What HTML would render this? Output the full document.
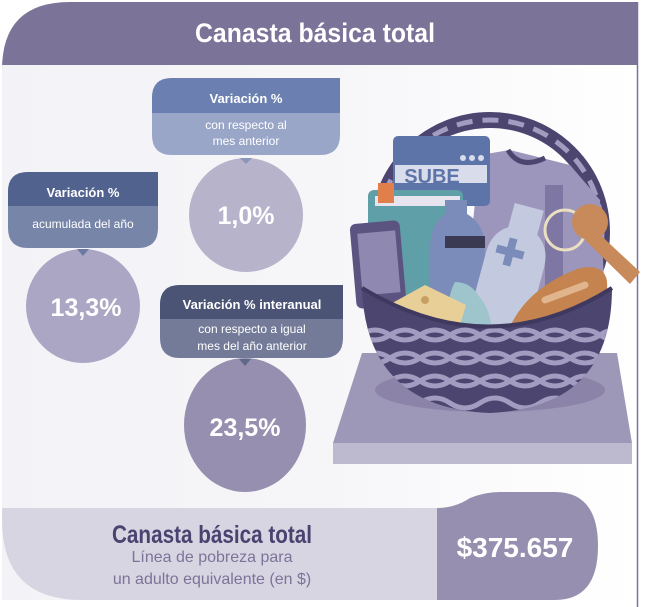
<!DOCTYPE html>
<html><head><meta charset="utf-8"><style>
body{margin:0;width:646px;height:607px;overflow:hidden;background:#fff;font-family:"Liberation Sans",sans-serif}
svg{display:block}
</style></head><body>
<svg width="646" height="607" viewBox="0 0 646 607" xmlns="http://www.w3.org/2000/svg">
<defs>
<linearGradient id="bg" x1="0" x2="1"><stop offset="0" stop-color="#f3f3f7"/><stop offset="0.5" stop-color="#f6f6f9"/><stop offset="1" stop-color="#ffffff"/></linearGradient>
<clipPath id="bowl"><path d="M362 288 Q490 365 612 288 Q612 408 490 413 Q366 408 362 288 Z"/></clipPath>
</defs>
<rect x="2" y="60" width="636" height="540" fill="url(#bg)"/>
<line x1="637.5" y1="2" x2="637.5" y2="607" stroke="#7c7399" stroke-width="1.5"/>
<path d="M70 2 H638 V65 H2 V70 Q2 2 70 2 Z" fill="#7c7399"/>
<text x="315" y="42" text-anchor="middle" font-size="27" font-weight="bold" fill="#fff" textLength="240" lengthAdjust="spacingAndGlyphs">Canasta básica total</text>

<path d="M172 78 H340 V135 Q340 155 320 155 H172 Q152 155 152 135 V98 Q152 78 172 78 Z" fill="#9aa6c8"/>
<path d="M172 78 H340 V113 H152 V98 Q152 78 172 78 Z" fill="#6b80b0"/>
<text x="246" y="103" text-anchor="middle" font-size="13" font-weight="bold" fill="#fff">Variación %</text>
<text x="246" y="129" text-anchor="middle" font-size="12" fill="#fff">con respecto al</text>
<text x="246" y="145" text-anchor="middle" font-size="12" fill="#fff">mes anterior</text>
<circle cx="246" cy="215" r="57" fill="#b7b3cb"/>
<path d="M240 158 L252 158 L246 164 Z" fill="#8a96b8"/>
<text x="246" y="224" text-anchor="middle" font-size="25" font-weight="bold" fill="#fff">1,0%</text>

<path d="M28 172 H158 V228 Q158 248 138 248 H28 Q8 248 8 228 V192 Q8 172 28 172 Z" fill="#7785a8"/>
<path d="M28 172 H158 V206 H8 V192 Q8 172 28 172 Z" fill="#51628f"/>
<text x="83" y="197" text-anchor="middle" font-size="13" font-weight="bold" fill="#fff">Variación %</text>
<text x="83" y="228" text-anchor="middle" font-size="12" fill="#fff">acumulada del año</text>
<circle cx="83" cy="306" r="57" fill="#aba6c4"/>
<path d="M77 249 L89 249 L83 256 Z" fill="#6a7aa2"/>
<text x="86" y="316" text-anchor="middle" font-size="25" font-weight="bold" fill="#fff">13,3%</text>

<path d="M180 285 H343 V338 Q343 358 323 358 H180 Q160 358 160 338 V305 Q160 285 180 285 Z" fill="#737b99"/>
<path d="M180 285 H343 V319 H160 V305 Q160 285 180 285 Z" fill="#4b5475"/>
<text x="252" y="309" text-anchor="middle" font-size="13" font-weight="bold" fill="#fff">Variación % interanual</text>
<text x="252" y="333" text-anchor="middle" font-size="12" fill="#fff">con respecto a igual</text>
<text x="252" y="350" text-anchor="middle" font-size="12" fill="#fff">mes del año anterior</text>
<ellipse cx="245" cy="425" rx="61" ry="67" fill="#968fb0"/>
<path d="M239 359 L251 359 L245 366 Z" fill="#60698a"/>
<text x="245" y="436" text-anchor="middle" font-size="25" font-weight="bold" fill="#fff">23,5%</text>

<path d="M362 353 H617 L632 443 H333 Z" fill="#9e98b8"/>
<rect x="333" y="443" width="299" height="21" fill="#bdb9ce"/>
<ellipse cx="490" cy="390" rx="115" ry="22" fill="#8b84a8"/>
<circle cx="490" cy="232" r="112" fill="none" stroke="#4c4570" stroke-width="16"/>
<circle cx="490" cy="232" r="112" fill="none" stroke="#a29cc0" stroke-width="5" stroke-dasharray="16 10"/>
<path d="M480 155 L510 150 L570 165 L600 200 L605 300 L500 340 L470 250 Z" fill="#9d96bc"/>
<path d="M508 150 Q520 170 545 158" fill="none" stroke="#4c4570" stroke-width="5"/>
<rect x="545" y="185" width="18" height="130" fill="#7f77a3"/>
<rect x="393" y="136" width="97" height="70" rx="5" fill="#5d74a8"/>
<rect x="395" y="165" width="92" height="18" fill="#d9dcea"/>
<text x="432" y="183" text-anchor="middle" font-size="20" font-weight="bold" fill="#5d74a8">SUBE</text>
<circle cx="463" cy="158" r="3" fill="#d9dcea"/><circle cx="472" cy="158" r="3" fill="#d9dcea"/><circle cx="481" cy="158" r="3" fill="#d9dcea"/>
<rect x="368" y="190" width="95" height="110" rx="6" fill="#5f9fa8"/>
<rect x="375" y="196" width="85" height="10" fill="#e6e4ee"/>
<rect x="378" y="183" width="16" height="20" fill="#e07f4a"/>
<rect x="353" y="222" width="50" height="85" rx="6" fill="#5c5480" transform="rotate(-5 378 264)"/>
<rect x="360" y="232" width="38" height="62" fill="#8f88b0" transform="rotate(-5 378 264)"/>
<path d="M445 200 h22 v14 q18 10 18 35 v90 h-55 v-90 q0 -25 15 -35 Z" fill="#7b8cbb"/>
<rect x="445" y="236" width="40" height="12" fill="#3a3a52"/>
<path d="M500 205 h30 v25 q15 10 15 30 v70 h-60 v-70 q0 -20 15 -30 Z" fill="#c3c9de" transform="rotate(15 515 260)"/>
<rect x="496" y="248" width="28" height="8" fill="#7b8cbb" transform="rotate(15 510 252)"/>
<rect x="506" y="238" width="8" height="28" fill="#7b8cbb" transform="rotate(15 510 252)"/>
<path d="M455 282 Q445 300 452 320 Q460 340 490 340 Q495 315 478 295 Q470 282 455 282 Z" fill="#9ec5cc"/>
<path d="M376 312 L425 285 L466 305 L458 332 L410 340 Z" fill="#e8cf98"/>
<circle cx="407" cy="315" r="6" fill="#c6a063"/><circle cx="425" cy="300" r="4" fill="#c6a063"/><circle cx="422" cy="328" r="5" fill="#c6a063"/>
<circle cx="565" cy="230" r="20" fill="none" stroke="#eadfc0" stroke-width="3"/>
<circle cx="590" cy="222" r="18" fill="#c88a5a"/>
<path d="M595 230 L640 272 L630 284 L585 240 Z" fill="#c88a5a"/>
<path d="M505 340 Q520 290 580 268 Q615 262 605 300 Q590 330 540 345 Z" fill="#c4834f"/>
<path d="M545 300 L585 285" stroke="#e0b48c" stroke-width="7" stroke-linecap="round"/>
<g clip-path="url(#bowl)">
<rect x="360" y="280" width="260" height="140" fill="#4c4570"/>
<g fill="none" stroke="#a29cc0" stroke-width="5">
<path d="M360 335 q15 -10 30 0 t30 0 t30 0 t30 0 t30 0 t30 0 t30 0 t30 0 t30 0"/>
<path d="M360 335 q15 10 30 0 t30 0 t30 0 t30 0 t30 0 t30 0 t30 0 t30 0 t30 0"/>
<path d="M360 358 q15 -10 30 0 t30 0 t30 0 t30 0 t30 0 t30 0 t30 0 t30 0 t30 0"/>
<path d="M360 358 q15 10 30 0 t30 0 t30 0 t30 0 t30 0 t30 0 t30 0 t30 0 t30 0"/>
<path d="M360 381 q15 -10 30 0 t30 0 t30 0 t30 0 t30 0 t30 0 t30 0 t30 0 t30 0"/>
<path d="M360 381 q15 10 30 0 t30 0 t30 0 t30 0 t30 0 t30 0 t30 0 t30 0 t30 0"/>
<path d="M360 403 q15 -10 30 0 t30 0 t30 0 t30 0 t30 0 t30 0 t30 0 t30 0 t30 0"/>
</g>
</g>
<path d="M362 288 Q490 365 612 288" fill="none" stroke="#3f3960" stroke-width="4"/>

<path d="M2 508 H440 V600 H82 Q2 600 2 520 Z" fill="#d8d5e2"/>
<path d="M437 508 Q455 508 470 498 Q485 492 500 492 H555 Q598 492 598 546 Q598 600 555 600 H437 Z" fill="#968fb0"/>
<text x="212" y="543" text-anchor="middle" font-size="25" font-weight="bold" fill="#4a4370" textLength="200" lengthAdjust="spacingAndGlyphs">Canasta básica total</text>
<text x="212" y="562" text-anchor="middle" font-size="16" fill="#7c7399">Línea de pobreza para</text>
<text x="212" y="584" text-anchor="middle" font-size="16" fill="#7c7399">un adulto equivalente (en $)</text>
<text x="515" y="557" text-anchor="middle" font-size="28" font-weight="bold" fill="#fff">$375.657</text>
</svg>
</body></html>
